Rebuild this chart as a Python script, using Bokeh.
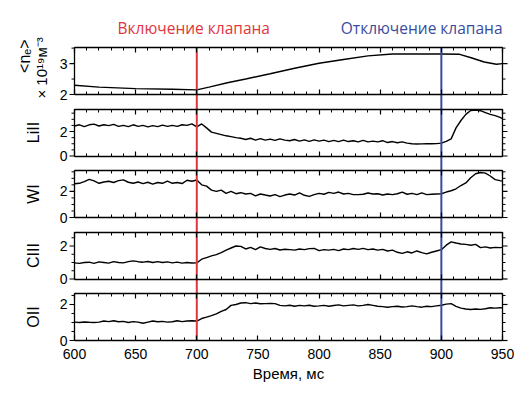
import math
from bokeh.plotting import figure
from bokeh.models import (Range1d, LinearAxis, SingleIntervalTicker, Label)
from bokeh.core.properties import value
from bokeh.embed import file_html
from bokeh.resources import INLINE

# ---------------- data ----------------
t = [600, 604, 608, 612, 616, 620, 624, 628, 632, 636, 640, 644, 648, 652, 656,
     660, 664, 668, 672, 676, 680, 684, 688, 692, 696, 700, 704, 708, 712, 716,
     720, 724, 728, 732, 736, 740, 744, 748, 752, 756, 760, 764, 768, 772, 776,
     780, 784, 788, 792, 796, 800, 804, 808, 812, 816, 820, 824, 828, 832, 836,
     840, 844, 848, 852, 856, 860, 864, 868, 872, 876, 880, 884, 888, 892, 896,
     900, 904, 908, 912, 916, 920, 924, 928, 932, 936, 940, 944, 948, 950]

lill = [2.45, 2.55, 2.40, 2.55, 2.60, 2.45, 2.55, 2.48, 2.58, 2.42, 2.50, 2.40, 2.55, 2.42, 2.50,
        2.38, 2.48, 2.40, 2.52, 2.42, 2.50, 2.42, 2.55, 2.50, 2.62, 2.38, 2.62, 2.30, 1.95, 1.85,
        1.75, 1.65, 1.58, 1.50, 1.45, 1.35, 1.45, 1.30, 1.42, 1.30, 1.38, 1.28, 1.40, 1.30, 1.25,
        1.35, 1.22, 1.32, 1.20, 1.32, 1.22, 1.30, 1.18, 1.28, 1.18, 1.30, 1.18, 1.25, 1.15, 1.28,
        1.15, 1.22, 1.15, 1.25, 1.10, 1.18, 1.08, 1.15, 1.05, 1.00, 0.98, 0.99, 1.00, 1.00, 1.01,
        1.05, 1.20, 1.40, 2.30, 2.90, 3.40, 3.72, 3.75, 3.70, 3.55, 3.40, 3.30, 3.15, 3.05]

wi = [2.58, 2.62, 2.75, 2.92, 2.80, 2.62, 2.72, 2.78, 2.68, 2.82, 2.88, 2.70, 2.62, 2.72, 2.60,
      2.70, 2.55, 2.68, 2.62, 2.78, 2.62, 2.68, 2.60, 2.85, 2.78, 2.87, 2.50, 2.40, 2.10, 2.00,
      2.10, 1.85, 2.00, 1.82, 1.90, 1.80, 1.85, 1.65, 1.80, 1.72, 1.65, 1.75, 1.60, 1.72, 1.80,
      1.72, 1.88, 1.70, 1.62, 1.75, 1.85, 1.78, 1.92, 1.85, 1.95, 1.80, 1.85, 1.75, 1.75, 1.78,
      1.88, 1.80, 1.82, 1.72, 1.80, 1.75, 1.82, 1.95, 1.78, 1.85, 1.75, 1.88, 1.75, 1.78, 1.80,
      1.82, 1.95, 2.05, 2.20, 2.45, 2.65, 3.05, 3.35, 3.45, 3.40, 3.18, 2.90, 2.82, 2.79]

ciii = [0.98, 0.95, 1.00, 1.02, 0.95, 1.04, 1.00, 0.96, 1.05, 1.00, 0.98, 1.05, 1.10, 1.05, 1.02,
        1.06, 1.00, 1.05, 1.00, 1.04, 0.98, 1.02, 0.96, 1.00, 0.97, 0.98, 1.20, 1.30, 1.40, 1.48,
        1.60, 1.75, 1.88, 2.00, 1.98, 1.82, 1.92, 1.78, 1.95, 1.85, 1.80, 1.85, 1.76, 1.80, 1.78,
        1.75, 1.82, 1.78, 1.84, 1.86, 1.72, 1.78, 1.75, 1.80, 1.72, 1.82, 1.78, 1.85, 1.80, 1.86,
        1.78, 1.82, 1.75, 1.80, 1.70, 1.75, 1.62, 1.55, 1.65, 1.58, 1.70, 1.60, 1.52, 1.62, 1.70,
        1.78, 2.05, 2.25, 2.18, 2.12, 2.10, 2.05, 2.10, 1.90, 1.95, 1.88, 1.92, 1.90, 1.92]

oii = [1.02, 1.00, 1.03, 1.01, 1.00, 1.02, 1.08, 1.05, 1.10, 1.04, 1.06, 1.00, 1.05, 1.02, 0.96,
       1.02, 1.08, 1.04, 1.06, 1.02, 1.04, 1.10, 1.05, 1.08, 1.10, 1.08, 1.22, 1.30, 1.38, 1.48,
       1.62, 1.72, 1.95, 2.00, 2.08, 2.10, 2.05, 2.08, 2.04, 2.05, 2.06, 2.05, 1.95, 1.92, 1.96,
       1.90, 1.95, 1.92, 1.96, 1.90, 1.92, 1.95, 1.90, 1.94, 1.98, 1.92, 1.95, 1.98, 1.92, 1.95,
       2.00, 1.95, 1.90, 1.88, 1.85, 1.88, 1.90, 1.86, 1.88, 1.92, 1.88, 1.85, 1.90, 1.88, 1.92,
       1.96, 2.02, 2.05, 1.90, 1.80, 1.75, 1.72, 1.75, 1.73, 1.76, 1.82, 1.80, 1.82, 1.81]

t_ne = [600, 620, 650, 680, 700, 710, 725, 740, 760, 780, 800, 820, 840, 860, 880, 900,
        915, 925, 935, 945, 950]
ne = [2.30, 2.24, 2.19, 2.17, 2.15, 2.24, 2.38, 2.50, 2.67, 2.85, 3.01, 3.13, 3.25, 3.31,
      3.31, 3.31, 3.30, 3.18, 3.05, 2.98, 3.00]

valve_on = 700
valve_off = 900
label_on = "Включение клапана"
label_off = "Отключение клапана"
x_label = "Время, мс"
x_min, x_max = 600, 950
x_ticks = [600, 650, 700, 750, 800, 850, 900, 950]
x_tick_labels = ["600", "650", "700", "750", "800", "850", "900", "950"]

# y ticks of each panel
ne_major = [2, 3]
ne_minor = [2.5, 3.5]
ne_labels = ["2", "3"]
ion_major = [0, 2]
ion_labels = ["0", "2"]
lill_minor = [0.5, 1, 1.5, 2.5, 3, 3.5]
wi_minor = [0.5, 1, 1.5, 2.5, 3, 3.5]
ciii_minor = [0.5, 1, 1.5, 2.5]
oii_minor = [0.5, 1, 1.5, 2.5]

# name, x, y, data range, y label lines, majors, labels, minors
panels = [
    ("ne", t_ne, ne, (2.0, 3.52), ["<nₑ>", "× 10¹⁹м⁻³"], ne_major, ne_labels, ne_minor),
    ("lill", t, lill, (0.0, 3.84), ["LiII"], ion_major, ion_labels, lill_minor),
    ("wi", t, wi, (0.0, 3.6), ["WI"], ion_major, ion_labels, wi_minor),
    ("ciii", t, ciii, (0.0, 2.85), ["CIII"], ion_major, ion_labels, ciii_minor),
    ("oii", t, oii, (0.0, 2.61), ["OII"], ion_major, ion_labels, oii_minor),
]

# ---------------- layout ----------------
PH = 47.0      # panel height (px)
GAP = 14.5     # gap between panels (px)
STACK = 5 * PH + 4 * GAP
EXT = 27.0     # room above the top panel for the two captions
BOT = 46.0     # room below the lowest panel for the time axis texts
TOTAL = STACK + EXT
LEFT_PX, PLOT_PX, RIGHT_PX = 74, 428, 12
MS_PER_PX = (x_max - x_min) / PLOT_PX
FONT = "Liberation Sans"
RED = "#e0343e"
BLUE = "#3a4b9c"

# default y range is in pixels: 0 = bottom of the lowest panel
p = figure(frame_width=LEFT_PX + PLOT_PX + RIGHT_PX, frame_height=int(TOTAL + BOT),
           output_backend="svg", toolbar_location=None,
           x_range=Range1d(x_min - LEFT_PX * MS_PER_PX, x_max + RIGHT_PX * MS_PER_PX),
           y_range=Range1d(-BOT, TOTAL),
           min_border_left=0, min_border_right=0, min_border_top=20,
           min_border_bottom=0, x_axis_type=None, y_axis_type=None)
p.outline_line_color = None
p.xgrid.visible = False
p.ygrid.visible = False
p.background_fill_color = "white"
p.border_fill_color = "white"


def panel_x_axis(name, loc, side):
    ax = LinearAxis(y_range_name=name, fixed_location=loc)
    ax.ticker = SingleIntervalTicker(interval=50, num_minor_ticks=5)
    ax.bounds = (x_min, x_max)
    # for axes at a fixed location these point away from the panel
    ax.major_tick_in = 5
    ax.major_tick_out = 0
    ax.minor_tick_in = 3
    ax.minor_tick_out = 0
    ax.axis_line_width = 1.3
    ax.major_tick_line_width = 1.2
    ax.minor_tick_line_width = 1
    ax.major_label_text_color = None
    p.add_layout(ax, side)


for k, (name, xs, ys, (d0, d1), ylab, majors, mlabels, minors) in enumerate(panels):
    b0 = (4 - k) * (PH + GAP)
    scale = (d1 - d0) / PH
    start = d0 - (b0 + BOT) * scale
    end = start + (TOTAL + BOT) * scale
    p.extra_y_ranges[name] = Range1d(start, end)

    p.line(xs, ys, y_range_name=name, line_color="black", line_width=1.4)

    # vertical frame sides of the panel with their ticks
    for xe, ang in ((x_min, math.pi), (x_max, 0.0)):
        p.segment(x0=[xe], y0=[d0], x1=[xe], y1=[d1], y_range_name=name,
                  line_color="black", line_width=1.3)
        p.ray(x=[xe] * len(majors), y=majors, length=5, length_units="screen",
              angle=ang, y_range_name=name, line_color="black", line_width=1.2)
        p.ray(x=[xe] * len(minors), y=minors, length=3, length_units="screen",
              angle=ang, y_range_name=name, line_color="black", line_width=1)

    # tick labels
    p.text(x=[x_min] * len(majors), y=majors, text=mlabels, x_offset=-7,
           y_range_name=name, text_align="right", text_baseline="middle",
           text_font=value(FONT), text_font_size=value("14px"), text_color="black")

    # y label
    if len(ylab) == 1:
        p.text(x=[x_min], y=[(d0 + d1) / 2], text=ylab, x_offset=-41,
               y_range_name=name, angle=math.pi / 2, text_align="center",
               text_baseline="middle", text_font=value(FONT),
               text_font_size=value("16px"), text_color="black")
    else:
        p.text(x=[x_min], y=[3.24], text=[ylab[0]], x_offset=-50,
               y_range_name=name, angle=math.pi / 2, text_align="center",
               text_baseline="middle", text_font=value(FONT),
               text_font_size=value("16px"), text_color="black")
        p.text(x=[x_min], y=[2.86], text=[ylab[1]], x_offset=-33,
               y_range_name=name, angle=math.pi / 2, text_align="center",
               text_baseline="middle", text_font=value(FONT),
               text_font_size=value("15px"), text_color="black")

    panel_x_axis(name, d1, "above")
    panel_x_axis(name, d0, "below")

# time axis texts (default range is in pixels below the lowest panel)
p.text(x=x_ticks, y=[-8] * len(x_ticks), text=x_tick_labels, text_align="center",
       text_baseline="top", text_font=value(FONT), text_font_size=value("14px"),
       text_color="black")
p.text(x=[(x_min + x_max) / 2], y=[-24], text=[x_label], text_align="center",
       text_baseline="top", text_font=value(FONT), text_font_size=value("15px"),
       text_color="black")

p.segment(x0=[valve_on], y0=[0], x1=[valve_on], y1=[STACK],
          line_color=RED, line_width=2)
p.segment(x0=[valve_off], y0=[0], x1=[valve_off], y1=[STACK],
          line_color=BLUE, line_width=2)

p.add_layout(Label(x=valve_on, y=STACK, text=label_on, x_offset=-3,
                   text_align="center", text_baseline="bottom", y_offset=9,
                   text_font="Open Sans", text_font_size="15.5px", text_color=RED))
p.add_layout(Label(x=x_max, y=STACK, text=label_off,
                   text_align="right", text_baseline="bottom", y_offset=9,
                   text_font="Open Sans", text_font_size="15.5px", text_color=BLUE))

open("out.html", "w").write(file_html(p, INLINE))
